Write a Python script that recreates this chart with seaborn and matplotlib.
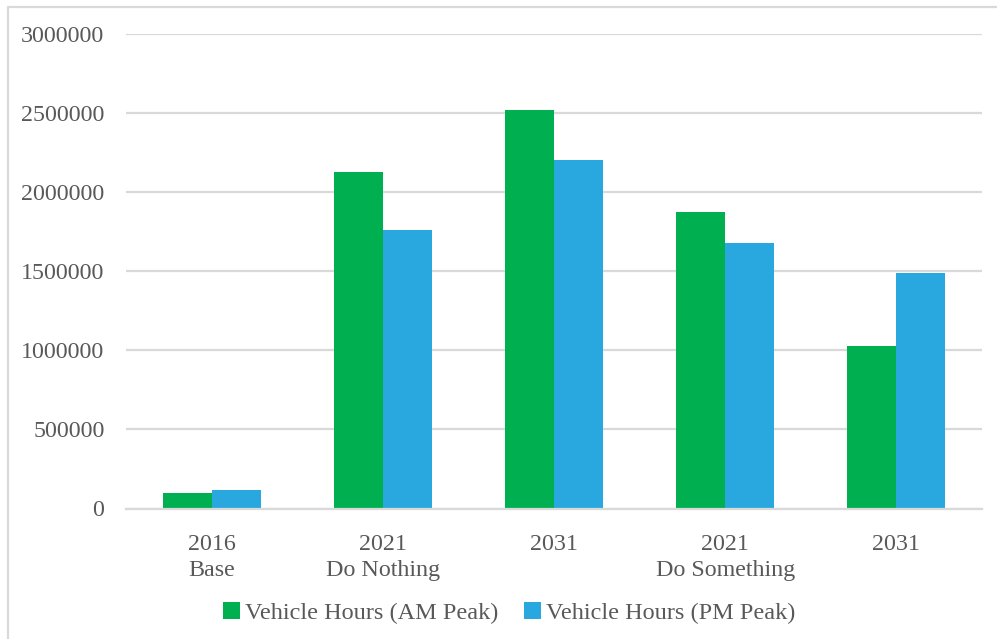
import matplotlib
matplotlib.use("Agg")
import matplotlib.pyplot as plt
from matplotlib.lines import Line2D
from matplotlib.patches import Patch
import seaborn as sns
import pandas as pd

# Scenario labels along the x axis
categories = ["2016\nBase", "2021\nDo Nothing", "2031", "2021\nDo Something", "2031 "]
tick_labels = ["2016\nBase", "2021\nDo Nothing", "2031", "2021\nDo Something", "2031"]
series_names = ["Vehicle Hours (AM Peak)", "Vehicle Hours (PM Peak)"]

# Total vehicle hours per scenario
am_peak = [100000, 2126000, 2517000, 1873000, 1026000]
pm_peak = [117000, 1759000, 2201000, 1677000, 1488000]

y_ticks = [0, 500000, 1000000, 1500000, 2000000, 2500000, 3000000]

colors = ["#00B050", "#29A8E0"]
text_color = "#595959"
grid_color = "#D9D9D9"

df = pd.DataFrame({
    "scenario": categories * 2,
    "series": [series_names[0]] * len(categories) + [series_names[1]] * len(categories),
    "hours": am_peak + pm_peak,
})

sns.set_theme(style="white")
plt.rcParams["font.family"] = ["Liberation Serif", "DejaVu Serif"]

fig = plt.figure(figsize=(9.97, 6.39), dpi=100)
ax = fig.add_axes([126 / 997, 1 - 508.5 / 639, (982 - 126) / 997, (508.5 - 33.7) / 639])

sns.barplot(
    data=df, x="scenario", y="hours", hue="series",
    order=categories, hue_order=series_names,
    palette=colors, width=0.572, saturation=1, ax=ax, legend=False,
    linewidth=0, edgecolor="none",
)

ax.set_xlim(-0.5, len(categories) - 0.5)
ax.set_ylim(0, 3000000)
ax.set_yticks(y_ticks)
ax.set_yticklabels([str(v) for v in y_ticks])
ax.set_xticks(range(len(categories)))
ax.set_xticklabels(tick_labels, linespacing=1.28)
ax.set_xlabel("")
ax.set_ylabel("")

for spine in ["top", "right", "left"]:
    ax.spines[spine].set_visible(False)
ax.spines["bottom"].set_color(grid_color)
ax.spines["bottom"].set_linewidth(1.6)
ax.yaxis.grid(True, color=grid_color, linewidth=1.6)
ax.set_axisbelow(True)

ax.tick_params(axis="both", length=0, labelsize=17.3, colors=text_color)
ax.tick_params(axis="y", pad=15.5)
ax.tick_params(axis="x", pad=18.5)

# Legend below the plot
handles = [Patch(facecolor=c, edgecolor="none") for c in colors]
fig.legend(
    handles, series_names, loc="center", bbox_to_anchor=(509 / 997, 1 - 613 / 639),
    ncol=2, frameon=False, fontsize=17.5, labelcolor=text_color,
    handlelength=0.7, handleheight=0.7, handletextpad=0.22, columnspacing=1.05,
)

# Chart-area frame
fig.add_artist(Line2D([8 / 997, 1.0], [1 - 7 / 639, 1 - 7 / 639],
                      transform=fig.transFigure, color=grid_color, linewidth=1.6))
fig.add_artist(Line2D([8 / 997, 8 / 997], [0.0, 1 - 7 / 639],
                      transform=fig.transFigure, color=grid_color, linewidth=1.6))

fig.savefig("out.png", dpi=100, facecolor="white")
